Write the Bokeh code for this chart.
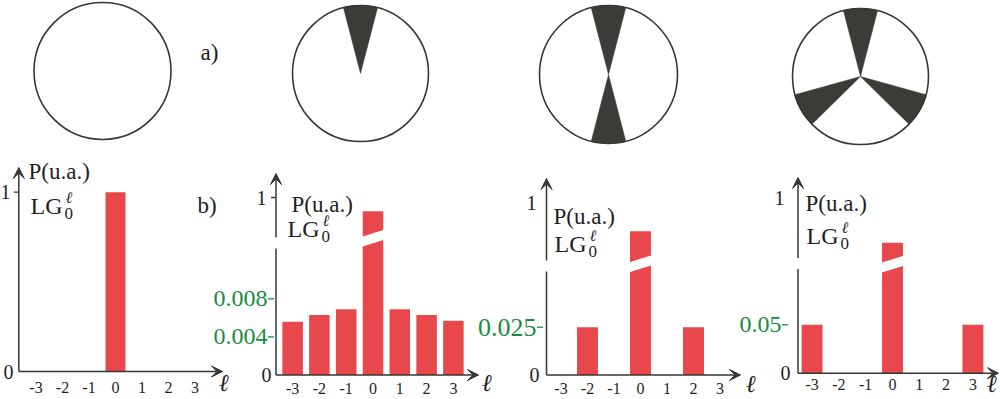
from bokeh.plotting import figure
from bokeh.models import Range1d, Arrow, VeeHead
from bokeh.core.properties import value
from bokeh.embed import file_html
from bokeh.resources import INLINE

# ---------------- data ----------------
ells = [-3, -2, -1, 0, 1, 2, 3]
ell_labels = ["-3", "-2", "-1", "0", "1", "2", "3"]
sectors = [0, 1, 2, 3]          # number of opaque sectors in each aperture (a)
sector_angle = 29               # degrees, full opening of each sector
P1 = [0, 0, 0, 1.0, 0, 0, 0]
P2 = [0.0056, 0.0063, 0.0069, 0.831, 0.0069, 0.0063, 0.0057]
P3 = [0, 0.025, 0, 0.765, 0, 0.025, 0]
P4 = [0.05, 0, 0, 0.659, 0, 0, 0.05]
green_ticks = [[], [0.004, 0.008], [0.025], [0.05]]
green_labels = [[], ["0.004", "0.008"], ["0.025"], ["0.05"]]

# ---------------- styles ----------------
DARK = "#363633"
WEDGE = "#3b3c37"
RED = "#e8474b"
GREEN = "#1b8c3c"
TXT = "#1e1e1e"
SERIF = value("Liberation Serif")

W, H = 1000, 399
p = figure(width=W, height=H, x_range=Range1d(0, W), y_range=Range1d(0, H),
           x_axis_type=None, y_axis_type=None, toolbar_location=None,
           output_backend="svg", min_border=0)
p.grid.visible = False
p.outline_line_color = None
p.background_fill_color = "white"
p.border_fill_color = "white"


def Y(sy):
    return H - sy


# ---------------- a) apertures ----------------
circles = [(102, 70.5, 68.5), (360, 73, 68), (608, 74, 69), (860, 76, 68)]
for (cx, cy, r), n in zip(circles, sectors):
    p.circle(x=[cx], y=[Y(cy)], radius=r, fill_color="white", line_color=None)
    if n:
        mids = [90 + 360.0 * i / n for i in range(n)]
        p.wedge(x=[cx] * n, y=[Y(cy)] * n, radius=r,
                start_angle=[m - sector_angle / 2 for m in mids],
                end_angle=[m + sector_angle / 2 for m in mids],
                start_angle_units="deg", end_angle_units="deg",
                fill_color=WEDGE, line_color=WEDGE, line_width=0.5)
    p.circle(x=[cx], y=[Y(cy)], radius=r, fill_color=None, line_color=DARK, line_width=1.6)

p.text(x=[200, 197], y=[Y(52), Y(205)], text=["a)", "b)"], text_font=SERIF,
       text_font_size="23px", text_color=TXT, text_baseline="alphabetic")

# ---------------- b) spectra ----------------
panels = [
    dict(P=P1, ax=18.3, y0=371, k=179.3, l0=115, dl=26.5, bw=0.755, xend=222, tip=167,
         yt1=191.7, one_x=10, zero_x=13, one_tick=True, brk=None, gsize="24px", gx=0,
         pu=(28, 171), lg=(30, 205), lab=(224, 382), tlab=387),
    dict(P=P2, ax=275.5, y0=374.5, k=9525, l0=372.5, dl=26.8, bw=0.765, xend=478, tip=173,
         yt1=197, one_x=266, zero_x=271, one_tick=True, brk=dict(b=237.5, gap=242.5, k2=81.0),
         gsize="24px", gx=267, pu=(291, 204), lg=(287, 228), lab=(487, 382), tlab=388),
    dict(P=P3, ax=546, y0=374.5, k=1912, l0=640, dl=26.5, bw=0.79, xend=740, tip=178,
         yt1=202, one_x=536, zero_x=539, one_tick=False, brk=dict(b=263, gap=265.5, k2=122.0),
         gsize="26px", gx=536, pu=(553, 216), lg=(554, 243), lab=(751, 383), tlab=388),
    dict(P=P4, ax=797.5, y0=372.7, k=968, l0=892, dl=26.8, bw=0.78, xend=998, tip=177,
         yt1=197, one_x=784, zero_x=790, one_tick=False, brk=dict(b=263.5, gap=263, k2=133.0),
         gsize="24px", gx=781, pu=(805, 203), lg=(806, 235), lab=(992, 383), tlab=384),
]

for i, c in enumerate(panels):
    xn, yl, yh = f"x{i}", f"yl{i}", f"yh{i}"
    p.extra_x_ranges[xn] = Range1d((0 - c["l0"]) / c["dl"], (W - c["l0"]) / c["dl"])
    p.extra_y_ranges[yl] = Range1d((c["y0"] - H) / c["k"], (c["y0"] - 0) / c["k"])
    P = c["P"]
    brk = c["brk"]
    if brk is None:
        p.vbar(x=ells, top=P, width=c["bw"], fill_color=RED, line_color=None,
               x_range_name=xn, y_range_name=yl)
    else:
        k2 = brk["k2"]
        p.extra_y_ranges[yh] = Range1d(1 - (H - c["yt1"]) / k2, 1 + (c["yt1"] - 0) / k2)
        side_x = [l for l in ells if l != 0]
        side_P = [v for l, v in zip(ells, P) if l != 0]
        p.vbar(x=side_x, top=side_P, width=c["bw"], fill_color=RED, line_color=None,
               x_range_name=xn, y_range_name=yl)
        P0 = P[ells.index(0)]
        vb_low = (c["y0"] - brk["b"]) / c["k"]
        vb_high = 1 - (brk["b"] - c["yt1"]) / k2
        p.vbar(x=[0], bottom=[0], top=[vb_low], width=c["bw"], fill_color=RED,
               line_color=None, x_range_name=xn, y_range_name=yl)
        p.vbar(x=[0], bottom=[vb_high], top=[P0], width=c["bw"], fill_color=RED,
               line_color=None, x_range_name=xn, y_range_name=yh)
        # white slanted cut through the broken bar
        hw = c["bw"] / 2 + 0.06
        b = brk["b"]
        p.patch(x=[-hw, hw, hw, -hw],
                y=[Y(b + 9), Y(b + 1.5), Y(b - 8.5), Y(b - 1)],
                fill_color="white", line_color=None, x_range_name=xn)
    # axes
    head = dict(size=11, fill_color=DARK, line_color=DARK, line_width=1)
    if brk is None:
        p.add_layout(Arrow(end=VeeHead(**head),
                           x_start=c["ax"], y_start=Y(c["y0"]), x_end=c["ax"], y_end=Y(c["tip"]),
                           line_color=DARK, line_width=1.5))
    else:
        g = brk["gap"]
        p.segment(x0=[c["ax"]], y0=[Y(c["y0"])], x1=[c["ax"]], y1=[Y(g + 5.5)],
                  line_color=DARK, line_width=1.5)
        p.add_layout(Arrow(end=VeeHead(**head),
                           x_start=c["ax"], y_start=Y(g - 5.5), x_end=c["ax"], y_end=Y(c["tip"]),
                           line_color=DARK, line_width=1.5))
    p.add_layout(Arrow(end=VeeHead(**head),
                       x_start=c["ax"], y_start=Y(c["y0"]), x_end=c["xend"], y_end=Y(c["y0"]),
                       line_color=DARK, line_width=1.5))
    # tick "1" mark
    if c["one_tick"]:
        p.segment(x0=[c["ax"] - 5], y0=[Y(c["yt1"])], x1=[c["ax"]], y1=[Y(c["yt1"])],
                  line_color=DARK, line_width=1.3)
    # y labels 0 and 1
    p.text(x=[c["one_x"], c["zero_x"]], y=[Y(c["yt1"]), Y(c["y0"])], text=["1", "0"],
           text_font=SERIF, text_font_size="20px", text_color=TXT,
           text_align="right", text_baseline="middle")
    # green ticks
    if green_ticks[i]:
        n = len(green_ticks[i])
        gx = c["gx"]
        p.segment(x0=[gx + 0.5] * n, y0=green_ticks[i], x1=[gx + 6.5] * n,
                  y1=green_ticks[i], line_color=GREEN, line_width=1.3, y_range_name=yl)
        p.text(x=[gx] * n, y=green_ticks[i], text=green_labels[i],
               text_font=SERIF, text_font_size=c["gsize"], text_color=GREEN,
               text_align="right", text_baseline="middle", y_range_name=yl)
    # x tick labels
    p.text(x=ells, y=[Y(c["tlab"])] * len(ells), text=ell_labels, text_font=SERIF,
           text_font_size="16px", text_color=TXT, text_align="center",
           text_baseline="middle", x_range_name=xn)
    # axis label ell
    p.text(x=[c["lab"][0]], y=[Y(c["lab"][1])], text=["ℓ"], text_font=SERIF,
           text_font_size="24px", text_font_style="bold italic", text_color=TXT,
           text_align="center", text_baseline="middle")
    # P(u.a.) and LG^l_0
    p.text(x=[c["pu"][0]], y=[Y(c["pu"][1])], text=["P(u.a.)"], text_font=SERIF,
           text_font_size="23px", text_color=TXT, text_baseline="alphabetic")
    lx, lb = c["lg"]
    p.text(x=[lx], y=[Y(lb)], text=["LG"], text_font=SERIF, text_font_size="24px",
           text_color=TXT, text_baseline="alphabetic")
    p.text(x=[lx + 35], y=[Y(lb - 8)], text=["ℓ"], text_font=SERIF, text_font_size="16px",
           text_font_style="italic", text_color=TXT, text_baseline="alphabetic")
    p.text(x=[lx + 34], y=[Y(lb + 8)], text=["0"], text_font=SERIF, text_font_size="17px",
           text_color=TXT, text_baseline="alphabetic")

open("out.html", "w").write(file_html(p, INLINE))
